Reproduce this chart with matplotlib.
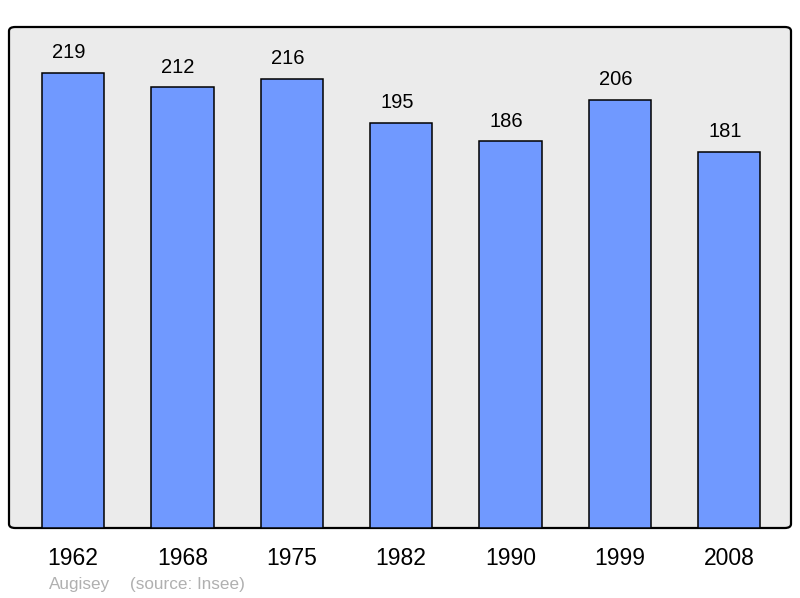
import matplotlib
matplotlib.use("Agg")
import matplotlib.pyplot as plt
from matplotlib.patches import FancyBboxPatch

plt.rcParams["font.family"] = ["Liberation Sans", "DejaVu Sans"]

years = ["1962", "1968", "1975", "1982", "1990", "1999", "2008"]
population = [219, 212, 216, 195, 186, 206, 181]
commune = "Augisey"
source = "(source: Insee)"

fig = plt.figure(figsize=(8, 5.98), dpi=100)
ax = fig.add_axes([9 / 800, 70 / 598, 782 / 800, 501 / 598])
ax.set_facecolor("none")

# rounded frame with grey background
frame = FancyBboxPatch((0, 0), 1, 1, boxstyle="round,pad=0,rounding_size=0.008",
                       transform=ax.transAxes, facecolor="#ebebeb",
                       edgecolor="black", linewidth=1.6, zorder=0, clip_on=False)
ax.add_patch(frame)

x = range(len(years))
ax.bar(x, population, width=0.57, color="#7099ff", edgecolor="black",
       linewidth=1.1, zorder=2)
for i, v in zip(x, population):
    ax.annotate(str(v), (i, v), xytext=(-3, 14.5), textcoords="offset points",
                ha="center", va="center", fontsize=14.5)

ax.set_xlim(-0.585, 6.565)
ax.set_ylim(0, 241)
for s in ax.spines.values():
    s.set_visible(False)
ax.set_yticks([])
ax.set_xticks(list(x))
ax.set_xticklabels(years, fontsize=16.5)
ax.tick_params(axis="x", length=0, pad=14)

fig.text(49 / 800, 1 - 584 / 598, commune, fontsize=12.3, color="#b0b0b0",
         va="center", ha="left")
fig.text(130 / 800, 1 - 584 / 598, source, fontsize=12.3, color="#b0b0b0",
         va="center", ha="left")

fig.savefig("out.png", dpi=100)
